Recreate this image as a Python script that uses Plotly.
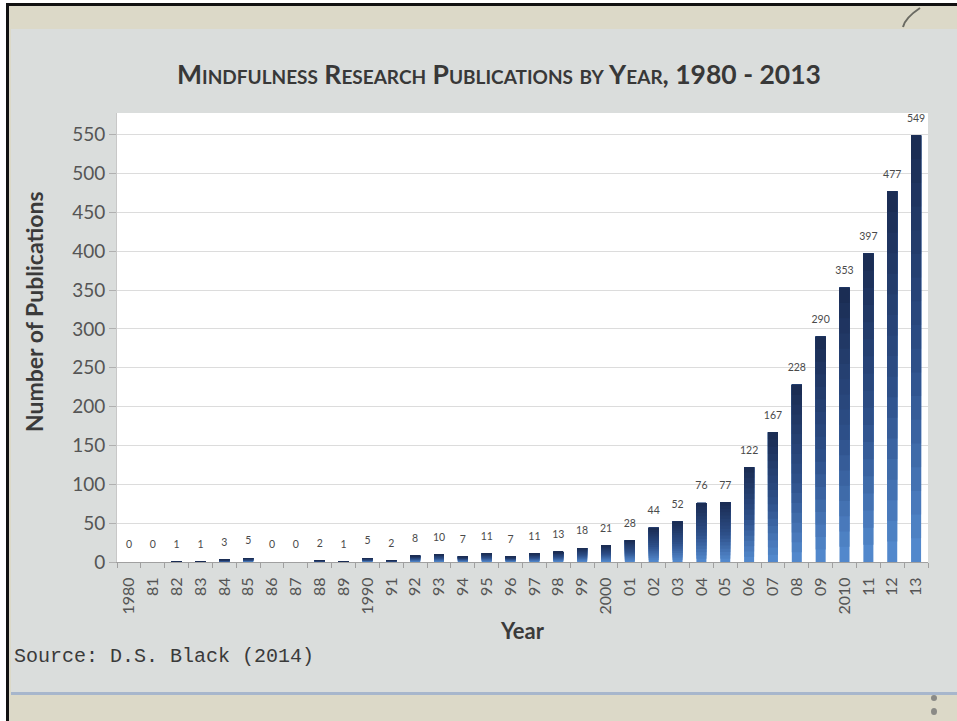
import plotly.graph_objects as go

years = [str(y) for y in range(1980, 2014)]
tick_labels = ["1980", "81", "82", "83", "84", "85", "86", "87", "88", "89",
               "1990", "91", "92", "93", "94", "95", "96", "97", "98", "99",
               "2000", "01", "02", "03", "04", "05", "06", "07", "08", "09",
               "2010", "11", "12", "13"]
publications = [0, 0, 1, 1, 3, 5, 0, 0, 2, 1,
                5, 2, 8, 10, 7, 11, 7, 11, 13, 18,
                21, 28, 44, 52, 76, 77, 122, 167, 228, 290,
                353, 397, 477, 549]
y_ticks = list(range(0, 551, 50))

W, H = 957, 721
L, R, T, B = 117, 29, 113, 159
PW, PH = W - L - R, H - T - B


def px(x):
    return (x - L) / PW


def py(y):
    return (H - B - y) / PH


# gradient stops (bottom -> top of each bar)
stops = [(0.0, (82, 136, 204)), (0.45, (46, 80, 138)), (1.0, (27, 45, 84))]


def grad(f):
    for (f0, c0), (f1, c1) in zip(stops[:-1], stops[1:]):
        if f <= f1:
            t = (f - f0) / (f1 - f0)
            return "rgb(%d,%d,%d)" % tuple(round(a + (b - a) * t) for a, b in zip(c0, c1))
    return "rgb(%d,%d,%d)" % stops[-1][1]


fig = go.Figure()
N = 18
for k in range(N):
    f = k / (N - 1)
    bases = [v * k / N for v in publications]
    heights = [v - b for v, b in zip(publications, bases)]
    fig.add_trace(go.Bar(
        x=years, y=heights, base=bases, width=0.42,
        marker=dict(color=grad(f), line=dict(width=0)),
        hoverinfo="skip", showlegend=False,
    ))

fig.add_trace(go.Scatter(
    x=years, y=publications, mode="markers+text",
    text=[str(v) for v in publications], textposition="top center",
    marker=dict(size=16, opacity=0),
    textfont=dict(family="Lato", size=10.5, color="#4a4a4a"),
    hoverinfo="skip", showlegend=False, cliponaxis=False,
))

shapes = [
    # gray slide panel
    dict(type="rect", xref="paper", yref="paper", x0=px(11), x1=px(960), y0=py(29), y1=py(692),
         fillcolor="#dadddc", line=dict(width=0), layer="below"),
    # white plot area
    dict(type="rect", xref="paper", yref="paper", x0=0, x1=1, y0=0, y1=1,
         fillcolor="white", line=dict(width=0), layer="below"),
    # blue bottom rule
    dict(type="rect", xref="paper", yref="paper", x0=px(11), x1=px(960), y0=py(692), y1=py(695),
         fillcolor="#a7b6cc", line=dict(width=0), layer="below"),
    # black frame lines
    dict(type="rect", xref="paper", yref="paper", x0=px(-5), x1=px(960), y0=py(3), y1=py(-5),
         fillcolor="white", line=dict(width=0), layer="below"),
    dict(type="rect", xref="paper", yref="paper", x0=px(-5), x1=px(6), y0=py(730), y1=py(-5),
         fillcolor="white", line=dict(width=0), layer="below"),
    dict(type="rect", xref="paper", yref="paper", x0=px(6), x1=px(960), y0=py(6), y1=py(3),
         fillcolor="#111111", line=dict(width=0), layer="below"),
    dict(type="rect", xref="paper", yref="paper", x0=px(6), x1=px(9), y0=py(730), y1=py(3),
         fillcolor="#111111", line=dict(width=0), layer="below"),
    # check mark decoration
    dict(type="path", xref="paper", yref="paper",
         path="M %f %f Q %f %f %f %f" % (px(920), py(8), px(905), py(18), px(903), py(27)),
         line=dict(color="#6a6a62", width=2)),
    # dots decoration
    dict(type="circle", xref="paper", yref="paper", x0=px(931), x1=px(937), y0=py(695), y1=py(701),
         fillcolor="#8a8a86", line=dict(width=0)),
    dict(type="circle", xref="paper", yref="paper", x0=px(931), x1=px(937), y0=py(708), y1=py(715),
         fillcolor="#8a8a86", line=dict(width=0)),
]

annotations = [
    dict(text="Source: D.S. Black (2014)", xref="paper", yref="paper",
         x=px(12), y=py(656), xanchor="left", yanchor="middle", showarrow=False,
         font=dict(family="Liberation Mono", size=20, color="#3a3a3a")),
    dict(text="Number of Publications", xref="paper", yref="paper",
         x=px(34), y=py(312), xanchor="center", yanchor="middle", showarrow=False,
         textangle=-90,
         font=dict(family="Lato", size=23, color="#3a3a3a", weight="bold")),
]

fig.update_layout(
    width=W, height=H,
    margin=dict(l=L, r=R, t=T, b=B, pad=0),
    paper_bgcolor="#dcd9c8",
    plot_bgcolor="white",
    barmode="overlay",
    bargap=0.5,
    title=dict(text="Mindfulness Research Publications by Year, 1980 - 2013",
               x=499 / W, y=1 - 75 / H, xanchor="center", yanchor="middle",
               font=dict(family="Lato", size=26.5, color="#383838", weight="bold",
                         variant="small-caps")),
    xaxis=dict(type="category", tickvals=years, ticktext=tick_labels, tickangle=-90,
               tickson="boundaries", ticks="outside", ticklen=5, tickcolor="#a0a0a0",
               showline=True, linecolor="#a0a0a0", linewidth=1, showgrid=False,
               ticklabelstandoff=8,
               tickfont=dict(family="Lato", size=16, color="#555555"),
               title=dict(text="Year", standoff=10,
                          font=dict(family="Lato", size=22, color="#3a3a3a", weight="bold")),
               range=[-0.5, len(years) - 0.5]),
    yaxis=dict(range=[0, PH / 0.777], tickvals=y_ticks, ticks="outside", ticklen=7,
               tickcolor="#b0b0b0", showline=True, linecolor="#c8c8c8", linewidth=1,
               gridcolor="#dcdcdc", gridwidth=1, zeroline=False,
               ticksuffix="\u00a0\u00a0",
               tickfont=dict(family="Lato", size=19, color="#555555")),
    shapes=shapes,
    annotations=annotations,
)

fig.write_html("out.html")
